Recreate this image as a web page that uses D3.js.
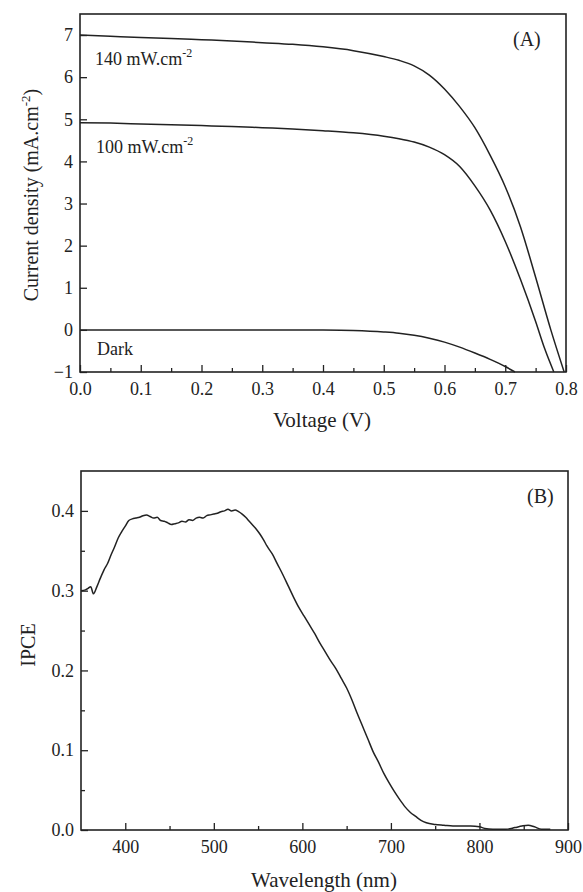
<!DOCTYPE html>
<html>
<head>
<meta charset="utf-8">
<script src="https://cdn.jsdelivr.net/npm/d3@7"></script>
<style>
  body { margin: 0; background: #fff; }
  svg { display: block; font-family: "Liberation Serif", "Times New Roman", serif; }
  .tick line { stroke: #222; stroke-width: 1.3; }
</style>
</head>
<body>
<svg width="583" height="892"></svg>
<script>
'use strict';

// panel A: J-V curves
const VOLTAGE = [0, 0.05, 0.1, 0.15, 0.2, 0.25, 0.3, 0.35, 0.4, 0.45, 0.5, 0.525, 0.55, 0.575, 0.6, 0.625, 0.65, 0.675, 0.7, 0.725, 0.75];
const J_140 = [7.00, 6.97, 6.94, 6.92, 6.89, 6.86, 6.82, 6.78, 6.72, 6.63, 6.49, 6.40, 6.27, 6.05, 5.72, 5.30, 4.80, 4.15, 3.40, 2.45, 1.25];
const J_100 = [4.92, 4.91, 4.89, 4.87, 4.85, 4.83, 4.80, 4.77, 4.73, 4.68, 4.60, 4.54, 4.46, 4.34, 4.16, 3.88, 3.42, 2.85, 2.10, 1.20, 0.20];
const J_DARK = [0, 0, 0, 0, 0, 0, 0, 0, -0.003, -0.015, -0.05, -0.08, -0.13, -0.20, -0.29, -0.41, -0.55, -0.70, -0.87, null, null];
// curve ends (V, J) where each curve meets the bottom axis
const END_140 = [[0.775, 0.0], [0.797, -1.0]];
const END_100 = [[0.765, -0.45], [0.780, -1.0]];
const END_DARK = [[0.716, -1.0]];

const V_TICKS = [0, 0.1, 0.2, 0.3, 0.4, 0.5, 0.6, 0.7, 0.8];
const J_TICKS = [-1, 0, 1, 2, 3, 4, 5, 6, 7];

// panel B: IPCE spectrum
const WAVELENGTH = [350, 355, 358, 361, 364, 368, 372, 376, 380, 384, 388, 392, 396, 400, 404, 408, 412, 416, 420, 424, 428, 432, 436, 440, 444, 448, 452, 456, 460, 464, 468, 472, 476, 480, 484, 488, 492, 496, 500, 504, 508, 512, 516, 520, 524, 528, 532, 536, 540, 544, 548, 552, 556, 560, 566, 572, 578, 584, 590, 596, 602, 608, 614, 620, 626, 632, 638, 644, 650, 656, 662, 668, 674, 680, 686, 692, 698, 704, 710, 716, 722, 728, 734, 740, 750, 760, 770, 780, 790, 800, 806, 815, 830, 840, 848, 855, 862, 870, 880];
const IPCE = [0.300, 0.301, 0.303, 0.305, 0.296, 0.305, 0.316, 0.326, 0.334, 0.345, 0.355, 0.366, 0.374, 0.381, 0.388, 0.390, 0.391, 0.392, 0.394, 0.395, 0.393, 0.391, 0.392, 0.388, 0.387, 0.385, 0.383, 0.384, 0.385, 0.387, 0.386, 0.389, 0.388, 0.391, 0.392, 0.391, 0.394, 0.395, 0.396, 0.397, 0.399, 0.400, 0.402, 0.400, 0.401, 0.399, 0.396, 0.392, 0.387, 0.382, 0.377, 0.371, 0.364, 0.356, 0.346, 0.333, 0.320, 0.306, 0.292, 0.279, 0.268, 0.257, 0.246, 0.234, 0.223, 0.212, 0.202, 0.190, 0.178, 0.163, 0.146, 0.130, 0.114, 0.098, 0.085, 0.071, 0.059, 0.048, 0.038, 0.029, 0.022, 0.017, 0.012, 0.009, 0.007, 0.006, 0.005, 0.005, 0.005, 0.004, 0.002, 0.001, 0.001, 0.003, 0.005, 0.006, 0.004, 0.001, 0.001];
const WL_TICKS = [400, 500, 600, 700, 800, 900];
const IPCE_TICKS = [0, 0.1, 0.2, 0.3, 0.4];

const INK = "#222";
const FONT = "Liberation Serif";
const svg = d3.select("svg");

function frame(x, y) {
   svg.append("rect")
      .attr("x", x.range()[0]).attr("y", y.range()[1])
      .attr("width", x.range()[1] - x.range()[0])
      .attr("height", y.range()[0] - y.range()[1])
      .attr("fill", "none").attr("stroke", INK).attr("stroke-width", 1.6);
}

// strip d3's default axis font and domain line
function tidy(g) {
   g.attr("font-family", FONT).attr("font-size", 18);
   g.select(".domain").remove();
   g.selectAll(".tick text").attr("fill", INK);
}

function axes(x, y, xTicks, xMinor, yTicks, yMinor, xFmt, yFmt) {
   const bottom = y.range()[0], left = x.range()[0];
   svg.append("g").attr("transform", `translate(0,${bottom})`)
      .call(d3.axisBottom(x).tickValues(xMinor).tickSize(-4).tickFormat(""))
      .call(tidy);
   svg.append("g").attr("transform", `translate(0,${bottom})`)
      .call(d3.axisBottom(x).tickValues(xTicks).tickSize(-7).tickPadding(10).tickFormat(xFmt))
      .call(tidy);
   if (yMinor.length) {
      svg.append("g").attr("transform", `translate(${left},0)`)
         .call(d3.axisLeft(y).tickValues(yMinor).tickSize(-4).tickFormat(""))
         .call(tidy);
   }
   svg.append("g").attr("transform", `translate(${left},0)`)
      .call(d3.axisLeft(y).tickValues(yTicks).tickSize(-7).tickPadding(7).tickFormat(yFmt))
      .call(tidy);
}

// ---------- panel A ----------
const xA = d3.scaleLinear().domain([0, 0.8]).range([80, 566]);
const yA = d3.scaleLinear().domain([-1, 7.5]).range([372, 14]);

const lineA = d3.line()
   .x(d => xA(d[0])).y(d => yA(d[1]))
   .curve(d3.curveMonotoneX);

const curves = [
   VOLTAGE.map((v, i) => [v, J_140[i]]).concat(END_140),
   VOLTAGE.map((v, i) => [v, J_100[i]]).concat(END_100),
   VOLTAGE.map((v, i) => [v, J_DARK[i]]).filter(d => d[1] != null).concat(END_DARK)
];
svg.append("g").selectAll("path")
   .data(curves)
   .enter().append("path")
   .attr("d", lineA)
   .attr("fill", "none").attr("stroke", INK).attr("stroke-width", 1.5);

axes(xA, yA, V_TICKS, d3.range(0.05, 0.8, 0.1), J_TICKS, [], d3.format(".1f"), d3.format("d"));
frame(xA, yA);

function powerLabel(x, y, txt) {
   const t = svg.append("text").attr("x", x).attr("y", y)
      .attr("font-size", 18).attr("fill", INK).text(txt);
   t.append("tspan").attr("font-size", 12).attr("dy", -8).text("-2");
}
powerLabel(95, 65, "140 mW.cm");
powerLabel(96, 153, "100 mW.cm");
svg.append("text").attr("x", 97).attr("y", 355).attr("font-size", 18).attr("fill", INK).text("Dark");
svg.append("text").attr("x", 513).attr("y", 46).attr("font-size", 20).attr("fill", INK).text("(A)");

svg.append("text").attr("x", 322).attr("y", 427).attr("text-anchor", "middle")
   .attr("font-size", 21).attr("fill", INK).text("Voltage (V)");
const ty = svg.append("text").attr("transform", "translate(38,195) rotate(-90)")
   .attr("text-anchor", "middle").attr("font-size", 20).attr("fill", INK)
   .text("Current density (mA.cm");
ty.append("tspan").attr("font-size", 13).attr("dy", -8).text("-2");
ty.append("tspan").attr("dy", 8).text(")");

// ---------- panel B ----------
const xB = d3.scaleLinear().domain([350, 900]).range([81, 568]);
const yB = d3.scaleLinear().domain([0, 0.45]).range([830, 471]);

svg.append("path")
   .datum(WAVELENGTH.map((w, i) => [w, IPCE[i]]))
   .attr("d", d3.line().x(d => xB(d[0])).y(d => yB(d[1])).curve(d3.curveMonotoneX))
   .attr("fill", "none").attr("stroke", INK).attr("stroke-width", 1.5);

axes(xB, yB, WL_TICKS, [450, 550, 650, 750, 850], IPCE_TICKS, [0.05, 0.15, 0.25, 0.35], d3.format("d"), d3.format(".1f"));
frame(xB, yB);

svg.append("text").attr("x", 527).attr("y", 503).attr("font-size", 20).attr("fill", INK).text("(B)");
svg.append("text").attr("x", 324).attr("y", 887).attr("text-anchor", "middle")
   .attr("font-size", 21).attr("fill", INK).text("Wavelength (nm)");
svg.append("text").attr("transform", "translate(35,645) rotate(-90)")
   .attr("text-anchor", "middle").attr("font-size", 20).attr("fill", INK).text("IPCE");
</script>
</body>
</html>
